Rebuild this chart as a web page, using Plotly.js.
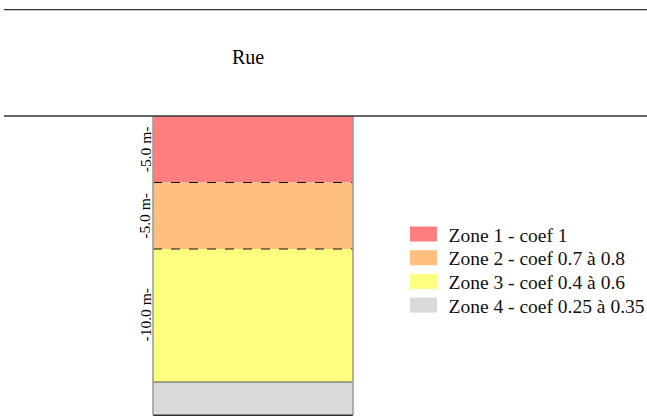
<!DOCTYPE html>
<html>
<head>
<meta charset="utf-8">
<script src="https://cdn.plot.ly/plotly-3.0.1.min.js"></script>
<style>html,body{margin:0;padding:0;background:#fff;}#chart{width:647px;height:416px;}</style>
</head>
<body>
<div id="chart"></div>
<script>
// Data
const zoneNames = ['Zone 1 - coef 1', 'Zone 2 - coef 0.7 à 0.8', 'Zone 3 - coef 0.4 à 0.6', 'Zone 4 - coef 0.25 à 0.35'];
const zoneDepths = [5, 5, 10, 2.5];
const zoneColors = ['#FF7F7F', '#FFBF7F', '#FFFF7F', '#D9D9D9'];
const depthLabels = ['-5.0 m-', '-5.0 m-', '-10.0 m-', ''];
const streetLabel = 'Rue';
const streetHeight = 8;

// Layout constants
const barX = 253, barW = 200, labelX = 145;
const FONT = 'Liberation Serif';

const bases = [];
let acc = 0;
zoneDepths.forEach(d => { bases.push(-acc); acc += d; });
const totalDepth = acc;

const traces = zoneNames.map((name, i) => ({
  type: 'bar',
  name: name,
  x: [barX],
  y: [-zoneDepths[i]],
  base: [bases[i]],
  width: [barW],
  marker: { color: zoneColors[i], line: { width: 0 } },
  hoverinfo: 'name',
  showlegend: true
}));

const shapes = [];
shapes.push({ type: 'line', xref: 'paper', yref: 'y', x0: 4/647, x1: 1, y0: streetHeight, y1: streetHeight, line: { color: '#333', width: 1.3 } });
for (let i = 1; i < zoneDepths.length; i++) {
  const y = bases[i];
  const dashed = i < zoneDepths.length - 1;
  shapes.push({ type: 'line', xref: 'x', yref: 'y', x0: barX - barW/2, x1: barX + barW/2, y0: y, y1: y,
    line: { color: dashed ? '#111' : '#555', width: 1, dash: dashed ? 'dash' : 'solid' } });
}
shapes.push({ type: 'line', xref: 'x', yref: 'y', x0: barX - barW/2, x1: barX + barW/2, y0: -totalDepth, y1: -totalDepth, line: { color: '#333', width: 1.3 } });
[barX - barW/2, barX + barW/2].forEach(xx => shapes.push({ type: 'line', xref: 'x', yref: 'y', x0: xx, x1: xx, y0: 0, y1: -totalDepth, line: { color: '#999', width: 1.5 } }));
shapes.push({ type: 'line', xref: 'paper', yref: 'y', x0: 4/647, x1: 1, y0: 0, y1: 0, line: { color: '#333', width: 1.3 } });

const annotations = [];
zoneDepths.forEach((d, i) => {
  if (!depthLabels[i]) return;
  annotations.push({ x: labelX, y: bases[i] - d/2, xref: 'x', yref: 'y', text: depthLabels[i], textangle: -90,
    showarrow: false, font: { family: FONT, size: 15.5, color: '#000' } });
});
annotations.push({ x: 248, y: streetHeight/2 + 0.45, xref: 'x', yref: 'y', text: streetLabel, showarrow: false,
  font: { family: FONT, size: 20, color: '#000' } });

const layout = {
  width: 647, height: 416,
  margin: { l: 0, r: 0, t: 0, b: 0 },
  paper_bgcolor: '#fff', plot_bgcolor: '#fff',
  barmode: 'overlay',
  xaxis: { range: [0, 647], visible: false, fixedrange: true },
  yaxis: { range: [-300/13.3, 116/13.3], visible: false, fixedrange: true },
  showlegend: true,
  legend: { x: 0.55, xanchor: 'left', y: 1 - 270/416, yanchor: 'middle', traceorder: 'normal',
    itemwidth: 40, font: { family: FONT, size: 19.5, color: '#111' }, bgcolor: 'rgba(0,0,0,0)' },
  shapes: shapes,
  annotations: annotations
};

Plotly.newPlot('chart', traces, layout, { displayModeBar: false, staticPlot: true }).then(() => {
  const legend = document.querySelector('g.legend');
  if (!legend) return;
  legend.querySelectorAll('[clip-path]').forEach(e => e.removeAttribute('clip-path'));
  const items = Array.from(legend.querySelectorAll('.traces'));
  items.forEach(g => {
    const p = g.querySelector('.legendpoints path');
    if (p) { p.setAttribute('d', 'M-13.5,-7.5H13.5V7.5H-13.5Z'); p.style.strokeWidth = '0px'; }
  });
  if (!items.length) return;
  const parse = g => {
    const m = (g.getAttribute('transform') || '').match(/translate\(\s*([-\d.eE]+)[\s,]*([-\d.eE]+)?/);
    return m ? [parseFloat(m[1]), parseFloat(m[2] || 0)] : [0, 0];
  };
  const [x0, y0] = parse(items[0]);
  items.forEach((g, i) => g.setAttribute('transform', 'translate(' + x0 + ',' + (y0 + i * 23.7) + ')'));
  const r = items[0].querySelector('.legendpoints path').getBoundingClientRect();
  const dx = 410 - r.left, dy = 234 - (r.top + r.height / 2);
  const [lx, ly] = parse(legend);
  legend.setAttribute('transform', 'translate(' + (lx + dx) + ',' + (ly + dy) + ')');
});
</script>
</body>
</html>
